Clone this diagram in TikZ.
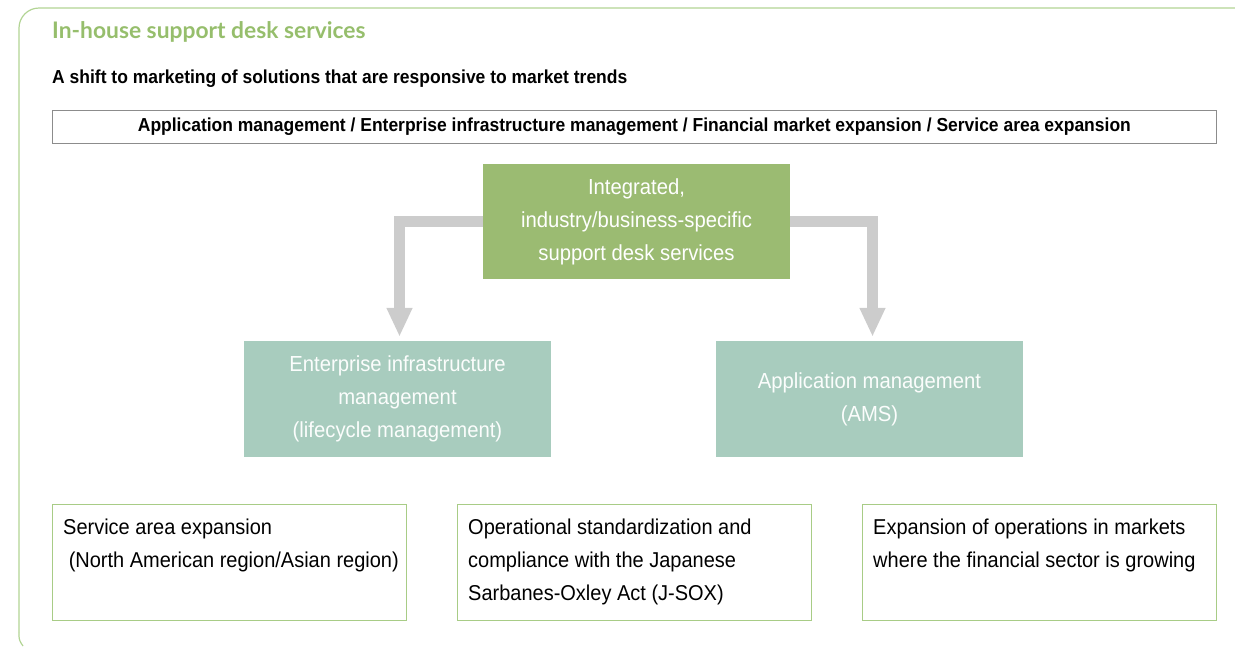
\documentclass[tikz,border=0pt]{standalone}
\usepackage{fontspec}
\setmainfont{Liberation Sans}[FakeStretch=0.93]
\newfontfamily\headfont{Lato}
\definecolor{LeafGreen}{RGB}{155, 187, 114}
\definecolor{HeadGreen}{RGB}{150, 190, 108}
\definecolor{FrameGreen}{RGB}{178, 212, 148}
\definecolor{EdgeGreen}{RGB}{168, 204, 134}
\definecolor{SeaTeal}{RGB}{168, 204, 190}
\definecolor{BandGray}{RGB}{204, 204, 204}
\usetikzlibrary{arrows.meta, positioning}

\begin{document}
\begin{tikzpicture}[x=1pt, y=-1pt,
    bodyfont/.style={font=\fontsize{21.5}{33}\selectfont},
    boxfont/.style={font=\fontsize{21.8}{33}\selectfont},
    leafbox/.style={boxfont, fill=LeafGreen, text=white, align=center,
      minimum width=307pt, minimum height=115pt, inner sep=0pt},
    tealbox/.style={boxfont, fill=SeaTeal, text=white!96!SeaTeal, align=center,
      minimum width=307pt, minimum height=116pt, inner sep=0pt},
    notebox/.style={draw=EdgeGreen, line width=1pt, minimum width=354pt,
      minimum height=116pt, anchor=north west, inner sep=0pt},
    notetext/.style={bodyfont, align=left, anchor=north west, inner sep=0pt},
    band/.style={BandGray, line width=11pt,
      -{Triangle[width=24pt, length=29pt]}, shorten >=4pt}]
  \useasboundingbox (0,0) rectangle (1235,646);

  % outer frame
  \draw[FrameGreen, line width=1.2pt, rounded corners=20pt]
    (19,632) -- (19,8) -- (1235,8);
  \draw[FrameGreen, line width=1.2pt] (19,632) .. controls (19,640) .. (23,646);

  % headings
  \node[anchor=base west, inner sep=0pt, text=HeadGreen,
    font=\headfont\bfseries\fontsize{22.8}{26}\selectfont] (title) at (52,38)
    {In-house support desk services};
  \node[anchor=base west, inner sep=0pt, font=\bfseries\fontsize{18.8}{22}\selectfont]
    (shift) at (52,83) {A shift to marketing of solutions that are responsive to market trends};
  \node[draw=black!45, line width=0.8pt, anchor=north west, minimum width=1164pt,
    minimum height=33pt, inner sep=0pt, font=\bfseries\fontsize{18.8}{22}\selectfont]
    (scope) at (52,110) {Application management / Enterprise infrastructure management / Financial market expansion / Service area expansion};

  % service boxes
  \node[leafbox] (integ) at (636.5,221.5)
    {Integrated,\\industry/business-specific\\support desk services};
  \node[tealbox] (eim) at (397.5,399)
    {Enterprise infrastructure\\management\\ (lifecycle management)};
  \node[tealbox] (ams) at (869.5,399)
    {Application management\\(AMS)};

  \draw[band] (integ.west) -| ([xshift=2pt]eim.north);
  \draw[band] (integ.east) -| ([xshift=3pt]ams.north);

  % growth areas
  \node[notebox] (sae) at (52,504) {};
  \node[notebox] (jsox) at (457,504) {};
  \node[notebox] (fin) at (862,504) {};
  \node[notetext] (saetxt) at ([xshift=11pt, yshift=-15pt]sae.north west)
    {Service area expansion\\\ (North American region/Asian region)};
  \node[notetext] (jsoxtxt) at ([xshift=11pt, yshift=-15pt]jsox.north west)
    {Operational standardization and\\compliance with the Japanese\\Sarbanes-Oxley Act (J-SOX)};
  \node[notetext] (fintxt) at ([xshift=11pt, yshift=-15pt]fin.north west)
    {Expansion of operations in markets\\where the financial sector is growing};
\end{tikzpicture}
\end{document}
